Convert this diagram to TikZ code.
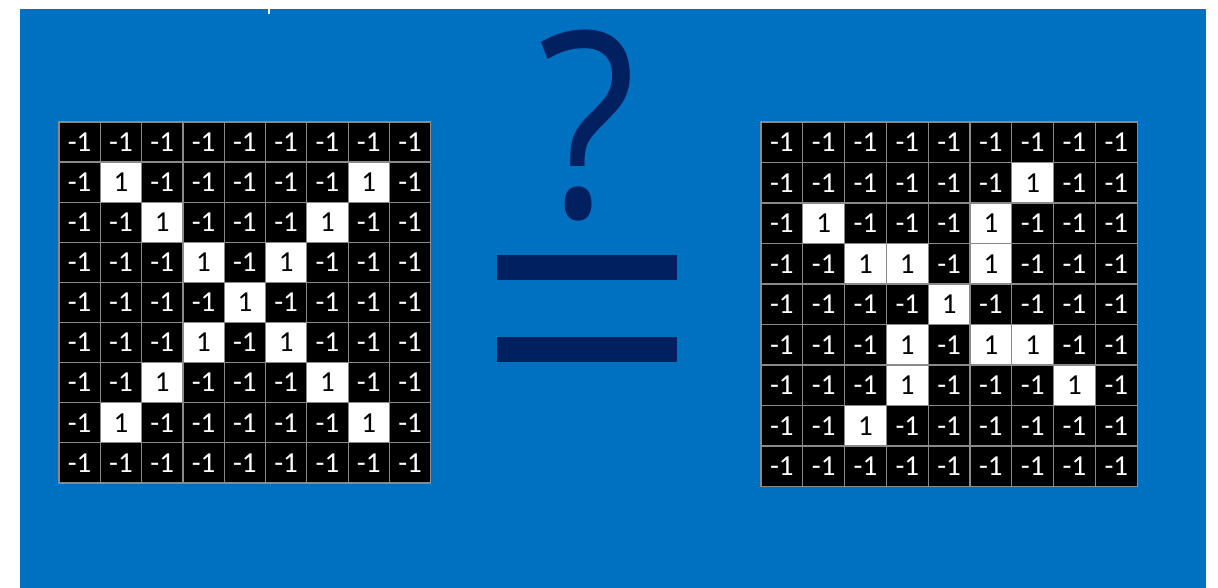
\documentclass[tikz,border=0pt]{standalone}
\usepackage{fontspec}
\setmainfont{Carlito}
\newfontfamily\qfont{Open Sans}
\definecolor{bgblue}{HTML}{0070C0}
\definecolor{navy}{HTML}{002060}
\definecolor{gridgray}{HTML}{8A8A8A}
\begin{document}
\begin{tikzpicture}[x=1pt,y=-1pt,
  cellbase/.style={draw=gridgray, line width=1.2pt, inner sep=0pt, outer sep=0pt,
    font=\fontsize{29}{31}\selectfont},
  cell0/.style={cellbase, fill=black, text=white},
  cell1/.style={cellbase, fill=white, text=black},
  bar/.style={fill=navy}]
\useasboundingbox (0,0) rectangle (1218,588);
\fill[white] (0,0) rectangle (1218,588);
\fill[bgblue] (20,9) rectangle (1206,588);
\fill[white] (267.5,9) rectangle (269.5,14);
% left grid
\foreach \row [count=\r] in {
  {0,0,0,0,0,0,0,0,0},
  {0,1,0,0,0,0,0,1,0},
  {0,0,1,0,0,0,1,0,0},
  {0,0,0,1,0,1,0,0,0},
  {0,0,0,0,1,0,0,0,0},
  {0,0,0,1,0,1,0,0,0},
  {0,0,1,0,0,0,1,0,0},
  {0,1,0,0,0,0,0,1,0},
  {0,0,0,0,0,0,0,0,0}}{
  \foreach \v [count=\c] in \row {
    \node[cell\v, minimum width=41.3pt, minimum height=40.1pt]
      (L-\r-\c) at ({59+(\c-0.5)*41.3},{122+(\r-0.5)*40.1}) {\ifnum\v=1 1\else -1\fi};
  }
}
% right grid
\foreach \row [count=\r] in {
  {0,0,0,0,0,0,0,0,0},
  {0,0,0,0,0,0,1,0,0},
  {0,1,0,0,0,1,0,0,0},
  {0,0,1,1,0,1,0,0,0},
  {0,0,0,0,1,0,0,0,0},
  {0,0,0,1,0,1,1,0,0},
  {0,0,0,1,0,0,0,1,0},
  {0,0,1,0,0,0,0,0,0},
  {0,0,0,0,0,0,0,0,0}}{
  \foreach \v [count=\c] in \row {
    \node[cell\v, minimum width=41.8pt, minimum height=40.5pt]
      (R-\r-\c) at ({761+(\c-0.5)*41.8},{122+(\r-0.5)*40.5}) {\ifnum\v=1 1\else -1\fi};
  }
}
% question mark and equals
\node[inner sep=0pt, text=navy, xscale=0.88, font=\qfont\fontsize{259}{265}\selectfont] (q) at (587.5,125.5) {?};
\fill[bar] (497,255) rectangle (677,280);
\fill[bar] (497,337) rectangle (677,362);
\end{tikzpicture}
\end{document}
